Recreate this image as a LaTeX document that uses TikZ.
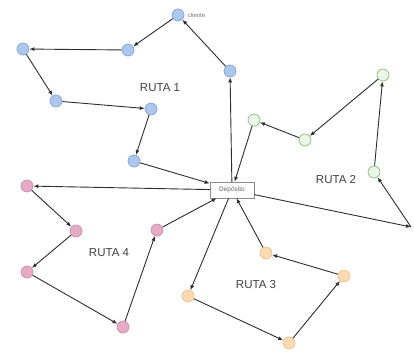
\documentclass[tikz,border=0pt]{standalone}
\usepackage{fontspec}
\setmainfont{Liberation Sans}
\usetikzlibrary{arrows.meta}

\definecolor{bluefill}{RGB}{172,198,236}
\definecolor{bluedraw}{RGB}{130,165,220}
\definecolor{greenfill}{RGB}{236,245,234}
\definecolor{greendraw}{RGB}{140,190,120}
\definecolor{pinkfill}{RGB}{228,170,198}
\definecolor{pinkdraw}{RGB}{205,140,175}
\definecolor{orangefill}{RGB}{252,218,180}
\definecolor{orangedraw}{RGB}{238,190,135}
\definecolor{linegray}{RGB}{45,45,45}

\begin{document}
\begin{tikzpicture}[x=1pt,y=-1pt,
    stop/.style={circle,minimum size=12pt,inner sep=0pt,line width=0.7pt},
    bluestop/.style={stop,fill=bluefill,draw=bluedraw},
    greenstop/.style={stop,fill=greenfill,draw=greendraw},
    pinkstop/.style={stop,fill=pinkfill,draw=pinkdraw},
    orangestop/.style={stop,fill=orangefill,draw=orangedraw},
    route/.style={draw=linegray,line width=0.9pt,-{Latex[length=5pt,width=4pt]}},
    routename/.style={font=\fontsize{11.5}{13}\selectfont,text=black!75}]

    % Fix the margins of the picture
    \useasboundingbox (0,0) rectangle (414,353);

    % The depot in the middle
    \node[draw=black!45,fill=white,minimum width=44pt,minimum height=16pt,
          inner sep=0pt,font=\fontsize{6.5}{7}\selectfont,text=black!60] (depot) at (232,190) {Depósito};

    % Route 1 (blue)
    \node[bluestop] (a1) at (178,15) {};
    \node[bluestop] (b1) at (128,50) {};
    \node[bluestop] (c1) at (23,49) {};
    \node[bluestop] (d1) at (56,101) {};
    \node[bluestop] (e1) at (151,109) {};
    \node[bluestop] (f1) at (134,161) {};
    \node[bluestop] (g1) at (230,71) {};
    \node[right,font=\fontsize{6}{7}\selectfont,text=black!55] (a1tag) at (a1.east) {cliente};
    \node[routename] (ruta1) at (160,88) {RUTA 1};

    % Route 2 (green)
    \node[greenstop] (a2) at (254,120) {};
    \node[greenstop] (b2) at (305,140) {};
    \node[greenstop] (c2) at (383,75) {};
    \node[greenstop] (d2) at (374,172) {};
    \coordinate (e2) at (411,227);
    \node[routename] (ruta2) at (336,180) {RUTA 2};

    % Route 3 (orange)
    \node[orangestop] (a3) at (266,253) {};
    \node[orangestop] (b3) at (344,276) {};
    \node[orangestop] (c3) at (289,343) {};
    \node[orangestop] (d3) at (188,296) {};
    \node[routename] (ruta3) at (256,285) {RUTA 3};

    % Route 4 (pink)
    \node[pinkstop] (a4) at (27,186) {};
    \node[pinkstop] (b4) at (76,231) {};
    \node[pinkstop] (c4) at (27,272) {};
    \node[pinkstop] (d4) at (123,327) {};
    \node[pinkstop] (e4) at (157,230) {};
    \node[routename] (ruta4) at (109,253) {RUTA 4};

    % Arrows of route 1
    \draw[route] (depot) -- (g1);
    \draw[route] (g1) -- (a1);
    \draw[route] (a1) -- (b1);
    \draw[route] (b1) -- (c1);
    \draw[route] (c1) -- (d1);
    \draw[route] (d1) -- (e1);
    \draw[route] (e1) -- (f1);
    \draw[route] (f1) -- (depot);

    % Arrows of route 2
    \draw[route] (depot) -- (e2);
    \draw[route] (e2) -- (d2);
    \draw[route] (d2) -- (c2);
    \draw[route] (c2) -- (b2);
    \draw[route] (b2) -- (a2);
    \draw[route] (a2) -- (depot);

    % Arrows of route 3
    \draw[route] (depot) -- (d3);
    \draw[route] (d3) -- (c3);
    \draw[route] (c3) -- (b3);
    \draw[route] (b3) -- (a3);
    \draw[route] (a3) -- (depot);

    % Arrows of route 4
    \draw[route] (depot) -- (a4);
    \draw[route] (a4) -- (b4);
    \draw[route] (b4) -- (c4);
    \draw[route] (c4) -- (d4);
    \draw[route] (d4) -- (e4);
    \draw[route] (e4) -- (depot);

\end{tikzpicture}
\end{document}
